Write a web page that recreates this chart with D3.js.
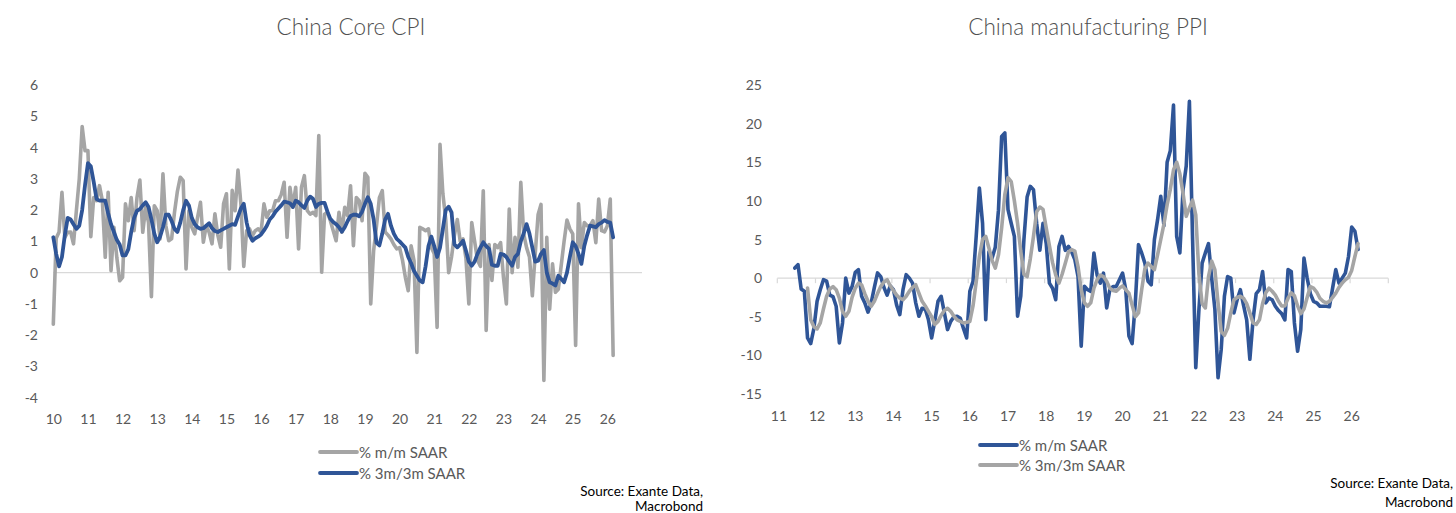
<!DOCTYPE html>
<html>
<head>
<meta charset="utf-8">
<script src="https://cdn.jsdelivr.net/npm/d3@7"></script>
<style>
  html, body { margin: 0; padding: 0; background: #fff; }
  svg { display: block; }
  text { font-family: Lato, "Open Sans", sans-serif; }
</style>
</head>
<body>
<svg id="chart" width="1456" height="513"></svg>
<script>
// ---------------- DATA ----------------
// Left chart: China Core CPI, monthly from Jan 2010
const cpiStart = [2010, 1];
const cpiMoM = [
  -1.65, 1.1, 1.3, 2.57, 1.13, 1.29, 1.3, 0.92, 1.98, 3.0,
  4.67, 3.9, 3.9, 1.15, 2.4, 2.3, 2.78, 2.3, 0.49, 2.57,
  0.06, 1.45, 0.49, -0.26, -0.15, 2.2, 1.66, 2.4, 1.34, 2.4,
  2.96, 1.29, 2.09, 1.6, -0.77, 2.14, 1.98, 1.08, 3.16, 1.5,
  1.02, 1.08, 1.93, 2.6, 3.05, 2.94, 0.12, 1.98, 1.45, 1.24,
  1.77, 2.25, 0.97, 1.5, 1.29, 0.92, 1.88, 1.2, 0.81, 2.2,
  2.52, 0.12, 2.63, 1.98, 3.28, 2.2, 0.2, 1.34, 1.4, 1.18,
  1.34, 1.4, 1.3, 2.2, 1.77, 1.98, 1.98, 2.3, 2.3, 2.5,
  2.89, 1.13, 2.73, 2.09, 2.73, 0.76, 2.73, 3.1, 1.98, 1.87,
  1.93, 1.82, 4.38, 0.01, 1.87, 1.93, 1.66, 1.34, 1.02, 1.93,
  1.29, 2.09, 1.82, 2.78, 0.86, 2.4, 2.3, 1.66, 3.18, 3.05,
  -1.0, 0.7, 1.5, 2.4, 2.62, 1.3, 1.2, 1.08, 0.9, 0.76,
  0.8, 0.4, -0.15, -0.58, 0.86, 0.38, -2.55, 1.45, 1.4, 1.34,
  1.4, 0.8, 0.6, -1.75, 4.1, 2.52, 1.7, 0.0, 0.5, 1.2,
  1.7, 1.0, 1.08, 0.45, -1.0, 1.6, 1.0, 0.4, 0.2, 2.62,
  -1.85, 0.9, -0.25, 0.9, 0.8, 0.96, -0.16, -1.0, 2.03, 0.0,
  1.13, 0.17, 2.89, 1.24, 0.8, 0.5, -0.74, 0.6, 1.86, 2.18,
  -3.45, 1.13, -1.17, 0.28, -0.63, -0.53, 0.23, 1.0, 1.68, 1.4,
  1.24, -2.33, 2.2, 0.8, 1.6, 1.5, 1.5, 1.66, 0.96, 2.35,
  1.34, 1.3, 1.5, 2.35, -2.65
];
const cpi3m3m = [
  1.13, 0.6, 0.2, 0.5, 1.2, 1.75, 1.7, 1.55, 1.4, 1.5,
  2.0, 2.8, 3.5, 3.4, 2.9, 2.35, 2.3, 2.3, 2.3, 1.9,
  1.55, 1.3, 1.05, 0.9, 0.55, 0.55, 0.75, 1.3, 1.75, 1.98,
  2.03, 2.15, 2.25, 2.1, 1.7, 1.25, 0.97, 1.15, 1.45, 1.85,
  1.85, 1.65, 1.4, 1.3, 1.6, 2.0, 2.3, 2.15, 1.75, 1.55,
  1.45, 1.4, 1.42, 1.5, 1.58, 1.42, 1.33, 1.3, 1.35, 1.4,
  1.45, 1.5, 1.55, 1.53, 1.8, 2.05, 2.2, 1.6, 1.2, 1.02,
  1.1, 1.15, 1.22, 1.35, 1.5, 1.7, 1.8, 1.95, 2.05, 2.15,
  2.27, 2.25, 2.22, 2.1, 2.3, 2.25, 2.15, 2.07, 2.3, 2.43,
  2.36, 2.1, 2.2, 2.23, 2.23, 1.95, 1.72, 1.62, 1.55, 1.45,
  1.31, 1.45, 1.65, 1.81, 1.85, 1.85, 1.8, 1.95, 2.2, 2.41,
  2.2, 1.7, 0.95, 0.87, 1.25, 1.7, 1.88, 1.5, 1.25, 1.08,
  1.0, 0.9, 0.8, 0.5, 0.3, 0.05, -0.1, -0.25, -0.31, 0.2,
  0.85, 1.15, 0.85, 0.5, 0.8, 1.4, 2.0, 2.11, 1.93, 0.9,
  0.81, 0.9, 1.02, 0.7, 0.35, 0.22, 0.35, 0.6, 0.8, 0.97,
  0.85, 0.76, 0.25, 0.22, 0.22, 0.6, 0.58, 0.5, 0.35, 0.22,
  0.5, 0.6, 1.0, 1.25, 1.55, 1.25, 0.8, 0.35, 0.38, 0.6,
  0.72, 0.0, -0.31, -0.35, -0.41, -0.1, -0.2, -0.31, 0.0, 0.5,
  0.97, 0.85, 0.6, 0.28, 0.85, 1.2, 1.5, 1.48, 1.45, 1.55,
  1.6, 1.68, 1.62, 1.6, 1.13
];
const cpiYearLabels = ["10","11","12","13","14","15","16","17","18","19","20","21","22","23","24","25","26"];
const cpiYTicks = [-4, -3, -2, -1, 0, 1, 2, 3, 4, 5, 6];

// Right chart: China manufacturing PPI
const ppiMoMStart = [2011, 6];   // Jun 2011
const ppiMoM = [
  1.3, 1.75, -1.4, -1.7, -7.74, -8.47, -6.5, -3.0, -1.5, -0.2,
  -0.4, -2.2, -2.4, -3.64, -8.39, -5.8, 0.0, -1.94, -1.1, 0.75,
  1.1, -2.35, -3.2, -4.4, -3.2, -1.2, 0.67, 0.2, -1.2, -2.2,
  -1.0, -1.5, -3.5, -4.72, -1.5, 0.45, 0.0, -0.65, -3.2, -4.94,
  -3.9, -4.0, -5.4, -7.74, -5.5, -3.0, -2.35, -4.5, -6.66, -5.6,
  -5.0, -4.94, -5.2, -6.5, -7.74, -1.7, -0.4, 5.41, 11.67, 7.1,
  -5.37, 3.4, 2.6, 4.0, 8.8, 18.35, 18.8, 8.86, 7.1, 5.4,
  -4.94, -2.35, 5.0, 10.5, 11.88, 11.45, 7.1, 3.6, 7.1, 4.5,
  -0.65, -1.3, -2.8, 4.1, 5.4, 3.6, 4.1, 3.4, 2.4, 0.2,
  -8.8, -1.06, -1.5, -1.7, 3.26, 0.4, -0.65, 0.65, -3.86, -1.5,
  -1.1, -1.1, -0.2, 0.65, -1.5, -7.5, -8.47, -3.2, 4.33, 3.26,
  1.94, -0.4, -0.86, 4.98, 7.57, 10.6, 6.8, 15.0, 16.5, 22.4,
  5.4, 3.26, 11.45, 14.5, 22.9, 5.0, -11.6, -4.0, 1.94, 3.26,
  4.46, 0.0, -4.0, -12.9, -9.2, -2.35, 0.2, 0.0, -4.5, -2.8,
  -1.5, -3.5, -5.4, -10.5, -5.4, -2.0, -1.5, 0.86, -3.2, -2.6,
  -2.8, -3.64, -4.2, -4.6, -5.4, 1.1, 0.86, -5.8, -9.47, -6.66,
  2.6, 0.0, -2.0, -3.0, -3.2, -3.64, -3.64, -3.64, -3.7, -1.3,
  1.1, -0.65, 0.0, 0.65, 2.8, 6.62, 6.06, 3.7
];
const ppi3mStart = [2011, 10];   // Oct 2011
const ppi3m3m = [
  -1.27, -5.4, -6.3, -6.58, -5.8, -4.0, -2.35, -1.4, -1.1, -1.5,
  -2.6, -4.3, -4.94, -4.3, -2.5, -1.3, -0.65, -0.86, -2.0, -3.0,
  -3.64, -3.0, -2.0, -1.1, -0.5, -0.2, -1.0, -1.6, -2.2, -2.6,
  -2.8, -2.35, -1.7, -1.2, -0.86, -1.94, -3.0, -3.6, -4.3, -5.0,
  -6.0, -5.6, -4.8, -4.2, -3.9, -4.3, -4.94, -5.4, -5.6, -5.8,
  -5.7, -5.6, -3.6, -0.5, 2.8, 5.0, 5.4, 3.9, 2.3, 1.3,
  3.0, 6.5, 10.8, 13.0, 12.5, 10.0, 7.1, 3.5, 0.5, 0.2,
  2.5, 5.4, 8.6, 9.2, 8.9, 6.5, 4.2, 2.0, 0.4, -0.65,
  0.5, 1.94, 3.4, 3.7, 3.5, 1.5, -1.5, -3.2, -3.64, -3.2,
  -1.3, -0.2, 0.4, 0.2, -0.4, -1.3, -1.6, -1.7, -1.3, -1.0,
  -1.5, -1.94, -3.5, -5.0, -4.5, -1.5, 1.2, 1.94, 1.5, 1.1,
  3.0, 5.0, 7.0, 9.5, 11.5, 14.0, 15.0, 13.5, 11.0, 8.0,
  9.1, 10.1, 8.2, 0.5, -3.3, -3.86, 0.2, 2.2, 1.1, -3.2,
  -6.9, -7.4, -6.5, -4.5, -2.8, -2.5, -2.35, -2.6, -3.3, -4.5,
  -5.8, -6.0, -5.4, -3.3, -1.9, -1.3, -1.7, -2.2, -3.0, -3.6,
  -3.6, -2.6, -1.9, -2.3, -3.6, -4.6, -4.0, -2.5, -1.1, -1.3,
  -1.8, -2.6, -3.0, -3.2, -3.0, -2.5, -1.94, -1.2, -0.65, -0.2,
  0.1, 1.0, 2.8, 4.46
];
const ppiYearLabels = ["11","12","13","14","15","16","17","18","19","20","21","22","23","24","25","26"];
const ppiYTicks = [-15, -10, -5, 0, 5, 10, 15, 20, 25];

const seriesNames = ["% m/m SAAR", "% 3m/3m SAAR"];

// ---------------- STYLE ----------------
const BLUE = "#2F5597";
const GREY = "#A5A5A5";
const TXT = "#595959";
const AXIS = "#D9D9D9";

const svg = d3.select("#chart");

function toPoints(start, values, monthOffset) {
  return values.map((v, i) => ({ t: start[0] + (start[1] - 1 + i + monthOffset) / 12, v }));
}

// ---------------- LEFT CHART ----------------
(function () {
  const x = d3.scaleLinear().domain([2010, 2027]).range([53.3, 642]);
  const y = d3.scaleLinear().domain([-4, 6]).range([397.7, 85]);
  const g = svg.append("g");

  g.append("text").attr("x", 351).attr("y", 35).attr("text-anchor", "middle")
    .attr("font-size", 22.5).attr("font-weight", 300).attr("fill", "#505050").text("China Core CPI");

  g.selectAll(".yl").data(cpiYTicks).join("text")
    .attr("x", 38).attr("y", d => y(d) + 5).attr("text-anchor", "end")
    .attr("font-size", 14).attr("fill", TXT).text(d => d);

  g.append("line").attr("x1", x(2010)).attr("x2", x(2027))
    .attr("y1", y(0)).attr("y2", y(0)).attr("stroke", AXIS).attr("stroke-width", 1.2);

  g.selectAll(".xl").data(cpiYearLabels).join("text")
    .attr("x", (d, i) => x(2010 + i) + 0.5).attr("y", 424).attr("text-anchor", "middle")
    .attr("font-size", 14).attr("fill", TXT).text(d => d);

  const line = d3.line().x(d => x(d.t)).y(d => y(d.v)).curve(d3.curveLinear);
  g.append("path").datum(toPoints(cpiStart, cpiMoM, 0)).attr("d", line)
    .attr("fill", "none").attr("stroke", GREY).attr("stroke-width", 3.6)
    .attr("stroke-linejoin", "round").attr("stroke-linecap", "round");
  g.append("path").datum(toPoints(cpiStart, cpi3m3m, 0)).attr("d", line)
    .attr("fill", "none").attr("stroke", BLUE).attr("stroke-width", 3.8)
    .attr("stroke-linejoin", "round").attr("stroke-linecap", "round");

  const leg = [
    { name: seriesNames[0], color: GREY, y: 452 },
    { name: seriesNames[1], color: BLUE, y: 473 }
  ];
  leg.forEach(l => {
    g.append("line").attr("x1", 320).attr("x2", 357).attr("y1", l.y).attr("y2", l.y)
      .attr("stroke", l.color).attr("stroke-width", 3.8).attr("stroke-linecap", "round");
    g.append("text").attr("x", 359).attr("y", l.y + 5.5).attr("font-size", 15)
      .attr("fill", TXT).text(l.name);
  });

  g.append("text").attr("x", 703).attr("y", 496).attr("text-anchor", "end")
    .attr("font-size", 13.5).attr("fill", "#000").text("Source: Exante Data,");
  g.append("text").attr("x", 703).attr("y", 511).attr("text-anchor", "end")
    .attr("font-size", 13.5).attr("fill", "#000").text("Macrobond");
})();

// ---------------- RIGHT CHART ----------------
(function () {
  const x = d3.scaleLinear().domain([2011, 2027]).range([777.3, 1388.3]);
  const y = d3.scaleLinear().domain([-15, 25]).range([394, 85]);
  const g = svg.append("g");

  g.append("text").attr("x", 1088).attr("y", 35).attr("text-anchor", "middle")
    .attr("font-size", 22.5).attr("font-weight", 300).attr("fill", "#505050").text("China manufacturing PPI");

  g.selectAll(".yl").data(ppiYTicks).join("text")
    .attr("x", 762).attr("y", d => y(d) + 5).attr("text-anchor", "end")
    .attr("font-size", 14).attr("fill", TXT).text(d => d);

  g.append("line").attr("x1", x(2011)).attr("x2", x(2027))
    .attr("y1", y(0)).attr("y2", y(0)).attr("stroke", AXIS).attr("stroke-width", 1.2);
  g.selectAll(".tk").data(d3.range(2011, 2028)).join("line")
    .attr("x1", d => x(d)).attr("x2", d => x(d))
    .attr("y1", y(0)).attr("y2", y(0) + 5).attr("stroke", AXIS).attr("stroke-width", 1.2);

  g.selectAll(".xl").data(ppiYearLabels).join("text")
    .attr("x", (d, i) => x(2011 + i + 0.5 / 12)).attr("y", 421).attr("text-anchor", "middle")
    .attr("font-size", 14).attr("fill", TXT).text(d => d);

  const line = d3.line().x(d => x(d.t)).y(d => y(d.v)).curve(d3.curveLinear);
  g.append("path").datum(toPoints(ppiMoMStart, ppiMoM, 0.5)).attr("d", line)
    .attr("fill", "none").attr("stroke", BLUE).attr("stroke-width", 3.6)
    .attr("stroke-linejoin", "round").attr("stroke-linecap", "round");
  g.append("path").datum(toPoints(ppi3mStart, ppi3m3m, 0.5)).attr("d", line)
    .attr("fill", "none").attr("stroke", GREY).attr("stroke-width", 3.6)
    .attr("stroke-linejoin", "round").attr("stroke-linecap", "round");

  const leg = [
    { name: seriesNames[0], color: BLUE, y: 445 },
    { name: seriesNames[1], color: GREY, y: 465 }
  ];
  leg.forEach(l => {
    g.append("line").attr("x1", 980).attr("x2", 1017).attr("y1", l.y).attr("y2", l.y)
      .attr("stroke", l.color).attr("stroke-width", 3.8).attr("stroke-linecap", "round");
    g.append("text").attr("x", 1019).attr("y", l.y + 5.5).attr("font-size", 15)
      .attr("fill", TXT).text(l.name);
  });

  g.append("text").attr("x", 1453).attr("y", 488).attr("text-anchor", "end")
    .attr("font-size", 13.5).attr("fill", "#000").text("Source: Exante Data,");
  g.append("text").attr("x", 1453).attr("y", 507).attr("text-anchor", "end")
    .attr("font-size", 13.5).attr("fill", "#000").text("Macrobond");
})();
</script>
</body>
</html>
